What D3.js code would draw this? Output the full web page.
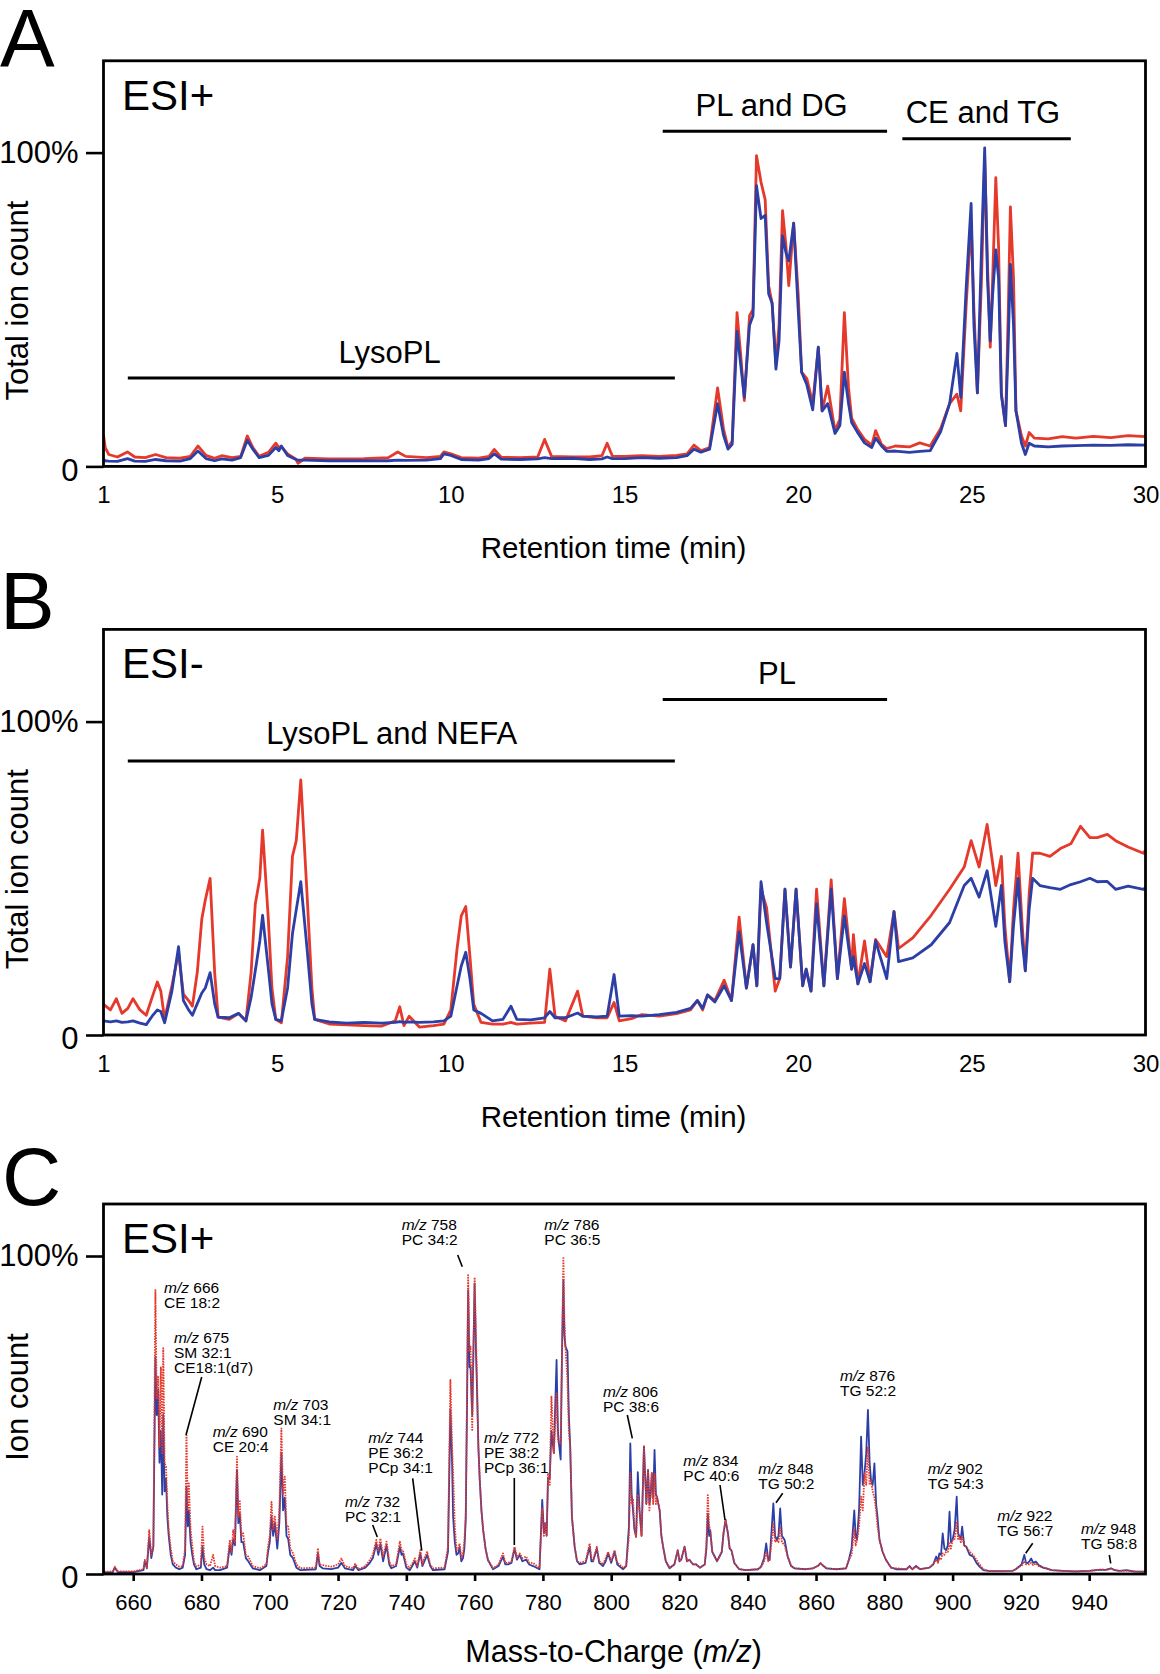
<!DOCTYPE html>
<html>
<head>
<meta charset="utf-8">
<script src="https://cdn.jsdelivr.net/npm/d3@7/dist/d3.min.js"></script>
<style>
  html, body { margin: 0; padding: 0; background: #fff; }
  svg { display: block; font-family: "Liberation Sans", Arial, Helvetica, sans-serif; }
</style>
</head>
<body>
<svg id="chart" width="1160" height="1674"></svg>
<script>
// ---------------- DATA ----------------
// Panel A (ESI+ total ion chromatogram): retention time (min), % intensity
const aTime = [0.00,0.05,0.15,0.4,0.69,0.9,1.2,1.5,1.8,2.2,2.5,2.72,2.95,3.2,3.4,3.7,3.95,4.14,4.3,4.48,4.75,4.96,5.05,5.12,5.3,5.54,5.6,5.8,6.5,7.5,8.2,8.47,8.7,9.3,9.7,9.8,10.0,10.3,10.8,11.1,11.25,11.45,12.0,12.5,12.7,12.9,13.5,
  14.0,14.35,14.5,14.65,15.0,15.5,16.0,16.5,16.8,17.0,17.2,17.45,17.68,17.85,17.98,18.1,18.24,18.35,18.45,18.6,18.7,18.8,18.93,19.05,19.15,19.25,19.36,19.45,19.55,19.65,19.73,19.87,20.0,20.1,20.25,20.42,20.58,20.69,20.85,21.06,21.2,21.33,21.45,21.54,21.7,21.91,22.12,22.23,22.4,22.55,22.8,23.2,23.5,23.8,24.1,24.36,24.57,24.68,24.84,24.98,25.06,25.16,25.28,25.37,25.45,25.53,25.6,25.69,25.77,25.85,25.97,26.05,26.11,26.2,26.27,26.43,26.54,26.65,26.8,27.2,27.6,28.0,28.5,29.0,29.5,30.0];
const aRed = [10,6,3.8,3.0,4.6,3.0,2.8,3.8,2.8,2.6,3.2,6.5,3.5,2.6,3.4,2.8,3.2,9.7,6,3.2,4.5,7.4,6,6.3,4,2.3,1.0,2.6,2.4,2.5,2.8,4.6,3.2,2.8,3.2,4.6,4.0,2.8,2.6,3.2,5.4,2.9,2.8,3.0,8.6,3.2,3.0,
  3.0,3.4,7.4,3.3,3.2,3.4,3.2,3.5,4.0,6.8,5.0,6.0,25,12,6.0,8,49,35,21,48,50,99,90.6,85,57.6,52,32.5,45,81.5,70,57.6,77.5,55,30,28,20,38,17.7,25.6,11.4,15,49,25,15.4,12,8.6,6.8,11.4,7,5.7,6.5,6.2,7.5,6.5,12,20,23,17.7,52,78,50,23.4,60,98.6,65,38,60,92,70,23,13,50,82.7,60,17.7,9.7,6.5,10.8,9.0,8.8,9.5,9.0,9.6,9.2,9.8,9.5];
const aBlue = [2.2,1.8,1.7,1.6,2.5,1.7,1.6,2.2,1.8,1.7,2.5,4.9,2.5,1.8,2.4,2.0,2.8,8.3,5.5,2.8,3.5,6,5,6.5,3.5,2.2,2.0,2.0,1.8,1.8,1.8,2.0,1.9,2.0,2.5,4.0,3.5,2.2,2.0,2.5,4.0,2.3,2.2,2.4,2.8,2.5,2.6,
  2.2,2.4,3.0,2.5,2.5,2.8,2.6,2.8,3.4,5.5,4.5,5.5,20,10,5.5,7,43,32,22,45,48,89.5,79,80,55,52,31,40,73.5,68,65.5,77.5,50,30,26,18,38,17.7,20,10.5,13,30,20,14,11,7.5,6.0,9,6.5,4.8,4.9,4.5,4.8,5,11,20,36,22,57.6,83.8,45,23.4,70,101.5,60,40,55,69,60,23,13,40,64.4,45,17.7,7.4,3.8,7.4,6.5,6.2,6.5,6.6,6.8,6.7,6.9,6.8];

// Panel B (ESI- total ion chromatogram)
const bTime = [0.00,0.2,0.37,0.53,0.7,0.85,1.05,1.23,1.4,1.55,1.65,1.76,1.97,2.16,2.3,2.45,2.56,2.7,2.83,2.93,3.07,3.2,3.3,3.62,3.89,4.1,4.25,4.37,4.5,4.58,4.74,4.85,4.96,5.12,5.3,5.44,5.55,5.68,5.86,6.0,6.08,6.5,7.0,7.5,8.0,8.4,8.53,8.65,8.8,9.1,9.5,9.8,10.0,10.18,10.3,10.43,10.55,10.66,10.87,11.2,11.5,11.73,11.9,12.3,12.7,12.85,13.0,13.3,13.65,13.8,14.2,14.5,14.7,14.85,15.2,15.5,16.0,16.5,16.9,17.1,17.25,17.39,17.6,17.87,18.08,18.3,18.51,18.7,18.81,18.93,19.09,19.34,19.47,19.62,19.78,19.94,20.13,20.23,20.37,20.53,20.74,20.95,21.13,21.33,21.54,21.59,21.72,21.91,22.07,22.23,22.55,22.76,22.89,23.3,23.83,24.36,24.78,24.98,25.21,25.44,25.69,25.85,25.95,26.09,26.2,26.33,26.45,26.54,26.65,26.75,26.96,27.25,27.55,27.85,28.13,28.4,28.61,28.9,29.14,29.5,29.94,30.0];
const bRed = [9.8,8,11.6,6.9,8.5,11.6,8,6.3,12,16.9,14,5,15.7,26.4,13,11,9.2,20,37,43,50,20,5.7,5,6.9,4.5,20,41.8,50,65.4,38,15,5,3.9,25,57,62,81.4,45,15,5,3.5,3.2,3.0,2.8,4.5,9,3,6,2.5,3.0,3.5,8,27.6,38,41,25,9.8,4,3.5,3.5,4.0,3.5,3.8,4.0,21,6,4.5,14,6,5.5,5.5,10.4,4.5,5.2,6.5,6.0,6.8,8,11,8,12.8,11,17.5,11,37.6,15,28.8,15.7,46.5,40.6,14,18,46.5,21.7,46.5,15.7,21,14,46.5,15.7,49.5,18,43.5,21,32,16.3,30,17,30.5,25,39.4,27.6,31,38.2,46.5,53.6,62,53.6,67.2,47.7,57,35,17,40,58,35,20.5,45,58,58,57,59.5,61,66.6,63,63,64,62,60,58,59];
const bBlue = [4.5,4.2,4.5,4.0,4.2,4.5,3.8,3.3,6,8,7.5,3.9,14,28.2,11,8,6.3,10,13.4,15,19.9,10,5.7,5.5,6.9,4.5,12,20.5,30,38.2,21.7,10,5,4.5,15,32.3,40,48.9,27.6,10,5,4.2,3.8,4.0,3.8,4.0,4.3,4.0,4.2,4.0,4.2,4.5,6,15.7,22,26.4,18,8,6.9,4.5,5,9.2,5,4.8,5.5,7.5,5.5,5.5,7,6,5.8,6,19.3,6,6.2,6.0,6.5,7.2,8.5,11,8.5,12.8,10.5,15.7,11,32.9,15,28.8,15.7,48.9,35.9,18,18,46.5,21.7,46.5,15.7,21,14,41.8,15.7,46.5,18,38,21,25,16.3,22.8,17,30,18,39.4,23.4,24.6,28.8,35.9,47.7,50,44,52.4,34.7,47.7,30,17,35,50,30,20.5,40,50,47.7,47,46.5,48,48.9,50,48.9,49,46.5,47.5,46.5,47];

// Panel C (ESI+ mass spectrum): m/z, % intensity
const cMz = [651.5,654.0,654.6,655.5,660,663.0,663.4,664.0,664.7,665.3,665.9,666.5,666.9,667.3,667.7,668.1,668.5,668.8,669.2,669.6,670.0,670.4,671.0,671.6,672.5,673.5,674.5,675.2,675.6,676.0,676.3,676.8,677.3,677.8,678.5,679.8,680.3,680.8,681.5,682.5,683.4,684.0,685.4,687.5,688.3,688.8,689.3,689.8,690.4,690.8,691.2,691.7,692.2,693.0,693.7,695.0,697.1,699.0,699.5,700.0,700.5,701.0,701.5,702.2,702.8,703.4,703.9,704.4,704.9,705.4,706.0,706.8,707.8,709.0,713.5,714.1,714.6,715.5,718.0,720.0,721.0,722.0,724.4,725.0,726.0,728.0,729.3,730.2,731.2,731.8,732.4,733.2,734.2,735.0,735.6,737.0,738.1,738.6,739.0,740.0,741.0,742.5,743.2,744.1,744.7,745.1,746.1,747.0,747.8,751.2,752.2,752.9,753.4,753.7,754.2,754.7,755.2,755.6,756.1,756.6,757.0,757.4,757.8,758.1,758.5,758.8,759.3,760.0,760.4,760.7,761.1,761.5,762.0,762.5,763.2,763.9,765.4,767.0,768.3,769.0,769.8,770.8,771.7,772.4,773.2,774.0,775.1,776.0,777.1,779.0,779.8,780.3,780.7,781.1,781.5,782.0,782.5,783.2,784.0,784.4,784.7,785.2,785.6,786.0,786.3,786.6,787.2,787.6,788.0,788.5,789.3,790.0,790.8,792.5,793.7,794.2,794.7,795.8,796.5,797.6,798.4,799.1,800.0,801.0,801.8,803.5,804.4,805.2,805.6,806.0,806.4,806.8,807.3,807.8,808.3,808.9,809.6,810.3,810.8,811.2,811.5,811.9,812.3,812.7,813.1,813.4,814.2,814.7,815.2,816.0,817.1,818.5,819.5,820.0,820.5,821.5,822.2,822.9,824.0,824.9,826.0,827.4,827.9,828.3,828.7,829.0,829.6,830.3,831.0,831.7,832.4,832.9,833.5,834.2,834.7,835.2,836.1,837.5,839.5,843.0,843.9,844.8,845.4,846.0,846.4,847.0,847.5,848.0,848.5,849.0,849.5,850.0,850.8,851.7,852.7,853.7,857.0,859.1,860.5,861.3,862.2,863.0,866.0,868.8,869.6,870.4,871.2,871.6,872.0,872.6,873.2,873.7,874.2,874.7,875.2,875.7,876.1,876.6,877.1,877.6,878.0,878.6,879.5,880.5,882.0,883.5,886.5,887.4,888.2,889.3,890.5,893.2,894.3,895.2,895.7,896.1,896.6,897.1,897.6,898.1,898.6,899.1,899.5,900.0,900.6,901.2,901.6,902.0,902.4,902.8,903.4,904.0,905.0,906.0,907.0,907.9,909.0,910.8,914.0,917.6,918.5,919.4,920.2,921.0,921.5,922.0,922.5,923.0,923.6,924.4,925.2,926.5,927.4,929.0,932.2,936.0,940.0,942.0,943.5,944.8,946.4,947.5,948.8,951.0,953.0,956.5];
const cRed = [0.7,0.8,2.3,0.8,0.8,1.5,4.4,2.0,13.8,6,8.6,89.3,55,62,40,65,38,71,35,33.8,22,14,8,4,3,2.3,2.5,8,43.7,20,28.5,14,9,4,2.3,3,14.9,5,3,2.5,6,2.5,2,2.5,10.7,7,13.8,10,36.9,18,23.3,12,12.8,6,5.5,2.5,1.8,3,8.6,12,22.7,14,18,10.7,20,45.8,25,30.6,15,14.9,8,6.5,3,1.8,2,8.1,3,2.8,2.3,3,4.9,2.5,1.8,3.2,1.5,2.5,4.4,6,10.7,7,11.2,5.5,10.2,4,2.5,3,10.2,7.5,7.5,3,1.8,4.9,2.5,7.5,3,4.5,7,3,1.8,2,8.6,61,40,31.7,15,7.5,8,9.6,5,6.5,10,19,60,94,70,71.5,45.3,93.3,75,61,40,29.6,20,13.8,8,4.4,1.8,3,6.5,3.5,3.5,4,8.6,5,6.5,5,5.5,3.5,3.5,1.8,20.6,12,16,12,31.7,28,55.8,38,56.8,42,41,41,70,99.8,80,71.5,61,45,40,18,8.6,4,3.5,4,9.6,5,4.4,8.6,4,3,5,7,4,7.5,3.5,2,2.5,12,31.7,22,23.3,15,11.7,25,20,12,40.6,22,32.7,20,24.3,31.7,22,31.7,22,24.3,20,12,8.6,4,2,3,7.5,4,4.5,8.6,4,4.5,3,3,2,3,10,24.8,15,13.8,7,5.5,4,5.5,7,12.8,17,12.8,8,7.5,3.4,1.5,1.2,1.5,2.3,4,7,4,4.5,10,16,10,10.7,10,14.9,10,9,5.5,2.5,1.8,1.5,1.8,2.5,3.4,2.5,1.8,1.5,1.8,4.4,6,14,9,10.7,15,24.3,20,31.7,28,40,28,29.6,26,24,20,15,10.7,7,4.4,2,1.8,1.5,2.3,1.5,2.3,1.5,2,3,4.5,3.5,5,4.5,6.5,6,7,7,9.6,8,10.7,11,16.5,11,11.7,10,11.7,9,8.6,7,6,4.5,3,1.5,0.9,0.9,1,1.5,2.3,2.5,4,3,3,3,3.5,2.8,3.4,2.5,2,1.8,1.2,1,0.8,1,1.2,1.5,1.2,1.6,1.3,1.0,1.0,0.8,0.7];
const cBlue = [0.5,0.6,2.0,0.6,0.6,1.2,4.0,1.8,11.7,5,8.6,68.3,50,58,35,45,25,50,26,30,18,12,6,3,2,1.5,2,6,27.5,15,20,10,6,3,1.5,2,8.6,3,1.5,1.2,2,1.2,1.2,2,9,6,11,9,32.7,16,19,10,10,5,4,1.8,1.2,2.5,7,10,18,12,16,8,16,38,20,24,12,11,6,5,2,1.2,1.5,6.5,2.5,1.8,1.5,2,3.5,1.8,1.2,2.5,1.2,2,3.5,5,9.5,6,9.5,4,9,3,1.8,2.5,8.5,6,6.5,2,1.2,4,2,6.5,2.5,3.5,6,2.5,1.2,1.5,7,51.6,35,18,10,6,6.5,8.5,4,5,8,17,55,89.3,65,65.2,50,91.4,70,58,40,29.6,20,13.8,8,4.4,1.5,2.5,5.5,3,3,3.5,8,4.5,6,4,4.5,3,2.5,1.5,23.3,13,16,12,30,30,45,38,67.3,45,41,36,70,92.5,75,71.5,70,50,40,18,8.6,4,3,3.5,8.6,4,4,8,3.5,2.5,4,6.5,3.5,7,3,1.5,2.5,15,41.1,25,20,14,11.7,32,20,12,40,22,32.7,22,24.3,31.7,24,39,25,24.3,20,12,8.6,4,1.8,3,7.5,4,4.5,8.6,4,4.5,3,3,2,3,8,19,12,13.8,7,5.5,4,5.5,7,12.8,17,12.8,8,7.5,3.4,1.5,1.2,1.5,2.3,5,9.6,4.5,4.4,14,22.2,12,10.7,12,20.6,12,10.7,5.5,2.5,1.8,1.5,1.8,2.5,3.4,2.5,1.8,1.5,1.8,4.4,8,20,12,10.7,20,43.2,28,31.7,38,51.6,35,29.6,28,34.8,22,18,10.7,7,4.4,2,1.5,1.5,2.5,1.5,2.5,1.5,2,3,5.5,4,6.5,6,12.8,8,7.5,9,19.6,10,10.7,14,24.3,13,11.7,11,14.9,9,8.6,6,5.5,3.5,2.3,1.2,0.9,0.9,1,1.5,2.3,3,6,3.5,3.4,4,4.9,3.5,3.9,2.8,2,1.8,1.2,1,0.8,1,1.2,1.3,1.3,1.8,1.2,1.0,1.2,0.8,0.7];

// Axis ticks and labels
const rtTickValues = [0, 5, 10, 15, 20, 25, 30];
const rtTickLabels = ["1", "5", "10", "15", "20", "25", "30"];
const mzTickValues = [660, 680, 700, 720, 740, 760, 780, 800, 820, 840, 860, 880, 900, 920, 940];
const yTickValues = [0, 100];
const yTickLabels = ["0", "100%"];

// Retention-time regions (min)
const regionsA = [
  { label: "LysoPL", start: 0.7, end: 16.45 },
  { label: "PL and DG", start: 16.1, end: 22.56 },
  { label: "CE and TG", start: 23.0, end: 27.85 }
];
const regionsB = [
  { label: "LysoPL and NEFA", start: 0.7, end: 16.45 },
  { label: "PL", start: 16.1, end: 22.56 }
];

// Peak annotations, panel C
const cPeakMz = [666, 675, 690, 703, 732, 744, 758, 772, 786, 806, 834, 848, 876, 902, 922, 948];
const cPeakNames = [["CE 18:2"], ["SM 32:1", "CE18:1(d7)"], ["CE 20:4"], ["SM 34:1"], ["PC 32:1"],
  ["PE 36:2", "PCp 34:1"], ["PC 34:2"], ["PE 38:2", "PCp 36:1"], ["PC 36:5"], ["PC 38:6"], ["PC 40:6"],
  ["TG 50:2"], ["TG 52:2"], ["TG 54:3"], ["TG 56:7"], ["TG 58:8"]];

// ---------------- LAYOUT ----------------
const W = 1160, H = 1674;
const RED = "#e5392b", BLUE = "#2c3fa6";
const L = 103.5, R = 1145.5;
const panels = {
  A: { top: 60.8, bottom: 466.4, y100: 152.6 },
  B: { top: 629.4, bottom: 1035, y100: 721.6 },
  C: { top: 1204, bottom: 1574, y100: 1256 }
};
// annotation label layout for panel C: [textX, firstBaseline, leader (x1,y1,x2,y2) or null]
const cLabelLayout = [
  [164, 1293, null],
  [174, 1343, [201.7, 1377, 186, 1435]],
  [212.7, 1437, null],
  [273.3, 1410, null],
  [345, 1507, [372.7, 1525, 377.3, 1537]],
  [368.3, 1443.3, [412.7, 1478.3, 421.7, 1550.7]],
  [401.7, 1230, [457.7, 1255, 462.3, 1266.7]],
  [484, 1443, [514.3, 1478, 514.3, 1545]],
  [544.3, 1230, null],
  [603, 1396.7, [627.3, 1415, 632.3, 1438.3]],
  [683.3, 1466, [720, 1485, 725, 1520]],
  [758.3, 1474.3, [782.7, 1493.3, 776, 1502.7]],
  [840, 1381, null],
  [927.7, 1474.3, null],
  [997.3, 1521, [1032.7, 1543.3, 1025.7, 1553.3]],
  [1081, 1534.3, [1109.3, 1555, 1110.7, 1563.3]]
];

const svg = d3.select("#chart");
svg.append("rect").attr("width", W).attr("height", H).attr("fill", "#fff");
const defs = svg.append("defs");

function yAxis(g, y) {
  const ax = d3.axisLeft(y).tickValues(yTickValues)
    .tickFormat((d, i) => yTickLabels[i]).tickSize(17.5).tickPadding(7.5);
  g.call(ax);
  g.select(".domain").remove();
  g.selectAll(".tick line").attr("stroke", "#000").attr("stroke-width", 2.6);
  g.selectAll(".tick text").attr("font-size", 31).attr("fill", "#000")
    .attr("font-family", "Liberation Sans, Arial, sans-serif")
    .attr("dy", (d) => d === 0 ? "0.45em" : "0.32em");
}

function frame(p, id) {
  defs.append("clipPath").attr("id", "clip" + id).append("rect")
    .attr("x", L).attr("y", p.top).attr("width", R - L).attr("height", p.bottom - p.top);
}

function box(p) {
  svg.append("rect").attr("x", L).attr("y", p.top).attr("width", R - L).attr("height", p.bottom - p.top)
    .attr("fill", "none").attr("stroke", "#000").attr("stroke-width", 2.8);
}

function panelLetter(txt, x, y) {
  svg.append("text").attr("x", x).attr("y", y).attr("font-size", 82).attr("fill", "#000").text(txt);
}

function yTitle(txt, cy) {
  svg.append("text").attr("transform", `translate(28,${cy}) rotate(-90)`)
    .attr("text-anchor", "middle").attr("font-size", 31).attr("fill", "#000").text(txt);
}

function chromatogram(id, p, times, red, blue, regions, regionLayout, modeLabel, modeY, titleY, letterY) {
  const x = d3.scaleLinear().domain([0, 30]).range([L, R]);
  const y = d3.scaleLinear().domain([0, 100]).range([p.bottom, p.y100]);
  frame(p, id);
  const line = (vals) => d3.line().x((d, i) => x(times[i])).y((d) => y(d))(vals);
  const g = svg.append("g").attr("clip-path", `url(#clip${id})`);
  g.append("path").attr("d", line(red)).attr("fill", "none").attr("stroke", RED)
    .attr("stroke-width", 2.8).attr("stroke-linejoin", "round");
  g.append("path").attr("d", line(blue)).attr("fill", "none").attr("stroke", BLUE)
    .attr("stroke-width", 2.8).attr("stroke-linejoin", "round");
  box(p);
  yAxis(svg.append("g").attr("transform", `translate(${L},0)`), y);
  const xg = svg.append("g").attr("transform", `translate(0,${p.bottom})`);
  xg.call(d3.axisBottom(x).tickValues(rtTickValues).tickFormat((d, i) => rtTickLabels[i])
    .tickSize(0).tickPadding(19.5));
  xg.select(".domain").remove();
  xg.selectAll(".tick text").attr("font-size", 24).attr("fill", "#000")
    .attr("font-family", "Liberation Sans, Arial, sans-serif");
  // regions
  regions.forEach((r, i) => {
    const lay = regionLayout[i];
    svg.append("line").attr("x1", x(r.start)).attr("x2", x(r.end)).attr("y1", lay.lineY).attr("y2", lay.lineY)
      .attr("stroke", "#000").attr("stroke-width", 3);
    svg.append("text").attr("x", lay.textX).attr("y", lay.textY).attr("text-anchor", "middle")
      .attr("font-size", 31).attr("fill", "#000").text(r.label);
  });
  svg.append("text").attr("x", 122).attr("y", modeY).attr("font-size", 42).attr("fill", "#000").text(modeLabel);
  svg.append("text").attr("x", 613.6).attr("y", titleY).attr("text-anchor", "middle")
    .attr("font-size", 29.5).attr("fill", "#000").text("Retention time (min)");
  yTitle("Total ion count", (p.top + p.bottom) / 2 + 37);
  panelLetter(id, 0, letterY);
}

chromatogram("A", panels.A, aTime, aRed, aBlue, regionsA,
  [{ lineY: 378, textX: 389.5, textY: 362.5 }, { lineY: 131.3, textX: 771.6, textY: 115.5 }, { lineY: 138.8, textX: 983, textY: 123 }],
  "ESI+", 109.5, 558, 66);
chromatogram("B", panels.B, bTime, bRed, bBlue, regionsB,
  [{ lineY: 761, textX: 391.7, textY: 744 }, { lineY: 699.5, textX: 777, textY: 683.5 }],
  "ESI-", 678, 1127, 629);

// ---------------- PANEL C ----------------
(function () {
  const p = panels.C;
  const x = d3.scaleLinear().domain([651.3, 956.5]).range([L, R]);
  const y = d3.scaleLinear().domain([0, 100]).range([p.bottom, p.y100]);
  frame(p, "C");
  const line = (vals) => d3.line().x((d, i) => x(cMz[i])).y((d) => y(d))(vals);
  const g = svg.append("g").attr("clip-path", "url(#clipC)");
  g.append("path").attr("d", line(cBlue)).attr("fill", "none").attr("stroke", BLUE)
    .attr("stroke-width", 1.8).attr("stroke-linejoin", "round");
  g.append("path").attr("d", line(cRed)).attr("fill", "none").attr("stroke", RED)
    .attr("stroke-width", 1.8).attr("stroke-dasharray", "1.6,1.1").attr("stroke-linejoin", "round");
  box(p);
  yAxis(svg.append("g").attr("transform", `translate(${L},0)`), y);
  const xg = svg.append("g").attr("transform", `translate(0,${p.bottom})`);
  xg.call(d3.axisBottom(x).tickValues(mzTickValues).tickFormat(d3.format("d")).tickSize(7).tickPadding(13));
  xg.select(".domain").remove();
  xg.selectAll(".tick line").attr("stroke", "#000").attr("stroke-width", 2.6);
  xg.selectAll(".tick text").attr("font-size", 22).attr("fill", "#000")
    .attr("font-family", "Liberation Sans, Arial, sans-serif");

  // annotations
  cPeakMz.forEach((mz, i) => {
    const [tx, ty, lead] = cLabelLayout[i];
    const t = svg.append("text").attr("x", tx).attr("y", ty).attr("font-size", 15.5).attr("fill", "#000");
    t.append("tspan").attr("font-style", "italic").text("m/z");
    t.append("tspan").text(" " + mz);
    cPeakNames[i].forEach((nm, j) => {
      svg.append("text").attr("x", tx).attr("y", ty + 14.8 * (j + 1)).attr("font-size", 15.5)
        .attr("fill", "#000").text(nm);
    });
    if (lead) {
      svg.append("line").attr("x1", lead[0]).attr("y1", lead[1]).attr("x2", lead[2]).attr("y2", lead[3])
        .attr("stroke", "#000").attr("stroke-width", 1.6);
    }
  });

  svg.append("text").attr("x", 122).attr("y", 1253).attr("font-size", 42).attr("fill", "#000").text("ESI+");
  const tt = svg.append("text").attr("x", 613.6).attr("y", 1662).attr("text-anchor", "middle")
    .attr("font-size", 30.5).attr("fill", "#000");
  tt.append("tspan").text("Mass-to-Charge (");
  tt.append("tspan").attr("font-style", "italic").text("m/z");
  tt.append("tspan").text(")");
  yTitle("Ion count", 1397);
  panelLetter("C", 2, 1205);
})();
</script>
</body>
</html>
